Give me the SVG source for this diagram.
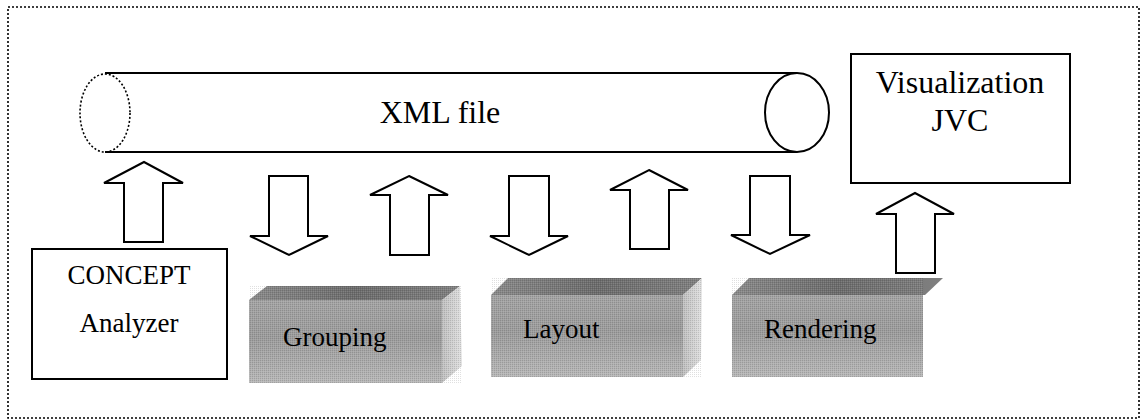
<svg xmlns="http://www.w3.org/2000/svg" width="1141" height="420" viewBox="0 0 1141 420">
  <defs>
    <style>
      .ln { stroke: #000; stroke-width: 2; fill: #fff; }
      .arrow { stroke: #000; stroke-width: 2; fill: #fff; stroke-linejoin: miter; }
      .big { font-size: 32px; }
      .mid { font-size: 27px; }
      .top { fill: url(#topShade); }
      .front { fill: url(#frontShade); }
      .side { fill: url(#sideShade); }
    </style>
    <linearGradient id="topShade" x1="0" y1="0" x2="1" y2="0">
      <stop offset="0" stop-color="#8a8a8a"/>
      <stop offset="0.5" stop-color="#6c6c6c"/>
      <stop offset="1" stop-color="#808080"/>
    </linearGradient>
    <linearGradient id="frontShade" x1="0" y1="0" x2="0" y2="1">
      <stop offset="0" stop-color="#a4a4a4"/>
      <stop offset="0.45" stop-color="#9c9c9c"/>
      <stop offset="1" stop-color="#b8b8b8"/>
    </linearGradient>
    <linearGradient id="sideShade" x1="0" y1="0" x2="1" y2="0">
      <stop offset="0" stop-color="#c0c0c0"/>
      <stop offset="1" stop-color="#e0e0e0"/>
    </linearGradient>
    <pattern id="grain" width="2" height="2" patternUnits="userSpaceOnUse">
      <rect x="0" y="0" width="1" height="1" fill="#000" opacity="0.12"/>
      <rect x="1" y="1" width="1" height="1" fill="#fff" opacity="0.12"/>
    </pattern>
  </defs>

  <rect width="1141" height="420" fill="#fff"/>

  <!-- dotted frame -->
  <rect x="8" y="7" width="1131" height="411" fill="none" stroke="#000" stroke-width="1.6" stroke-dasharray="2 2"/>

  <g font-family="'Liberation Serif', 'Times New Roman', 'DejaVu Serif', serif" fill="#000">
    <!-- XML file cylinder -->
    <g id="xml-file">
      <line x1="105" y1="73" x2="797" y2="73" stroke="#000" stroke-width="2"/>
      <line x1="105" y1="152" x2="797" y2="152" stroke="#000" stroke-width="2"/>
      <ellipse cx="105" cy="113" rx="25" ry="39" fill="none" stroke="#000" stroke-width="1.6" stroke-dasharray="2 2"/>
      <ellipse cx="797" cy="112.5" rx="32" ry="39.5" class="ln"/>
      <text x="440" y="123" text-anchor="middle" class="big">XML file</text>
    </g>

    <!-- Visualization JVC -->
    <g id="visualization">
      <rect x="851" y="54" width="219" height="129" class="ln"/>
      <text x="960" y="93" text-anchor="middle" class="big">Visualization</text>
      <text x="960" y="131" text-anchor="middle" class="big">JVC</text>
    </g>

    <!-- CONCEPT Analyzer -->
    <g id="concept-analyzer">
      <rect x="32" y="249" width="195" height="130" class="ln"/>
      <text x="129" y="284" text-anchor="middle" class="mid">CONCEPT</text>
      <text x="129" y="332" text-anchor="middle" class="mid">Analyzer</text>
    </g>

    <!-- Grouping block -->
    <g id="grouping">
      <polygon class="top" points="249,300 267,286 460,286 442,300"/>
      <polygon class="side" points="442,300 460,286 462,366 442,383"/>
      <rect class="front" x="249" y="300" width="193" height="83"/>
      <rect fill="url(#grain)" x="249" y="286" width="213" height="97"/>
      <text x="283" y="346" class="mid">Grouping</text>
    </g>

    <!-- Layout block -->
    <g id="layout">
      <polygon class="top" points="491,295 508,278 702,278 683,295"/>
      <polygon class="side" points="683,295 702,278 701,360 683,377"/>
      <rect class="front" x="491" y="295" width="192" height="82"/>
      <rect fill="url(#grain)" x="491" y="278" width="211" height="99"/>
      <text x="523" y="338" class="mid">Layout</text>
    </g>

    <!-- Rendering block -->
    <g id="rendering">
      <polygon class="top" points="732,295 749,278 943,278 925,295"/>
      <rect class="front" x="732" y="295" width="191" height="82"/>
      <rect fill="url(#grain)" x="732" y="278" width="191" height="99"/>
      <text x="764" y="338" class="mid">Rendering</text>
    </g>
  </g>

  <!-- block arrows -->
  <g id="connectors">
    <polygon class="arrow" points="144,162 183,183 163,183 163,242 124,242 124,183 104,183"/>
    <polygon class="arrow" points="269,176 308,176 308,236 328,236 289,255 250,236 269,236"/>
    <polygon class="arrow" points="409,176 448,195 429,195 429,255 390,255 390,195 370,195"/>
    <polygon class="arrow" points="509,176 549,176 549,236 568,236 529,255 490,236 509,236"/>
    <polygon class="arrow" points="649,170 688,190 669,190 669,249 630,249 630,190 610,190"/>
    <polygon class="arrow" points="750,176 790,176 790,235 810,235 770,254 731,235 750,235"/>
    <polygon class="arrow" points="915,193 954,214 935,214 935,273 896,273 896,214 876,214"/>
  </g>
</svg>
